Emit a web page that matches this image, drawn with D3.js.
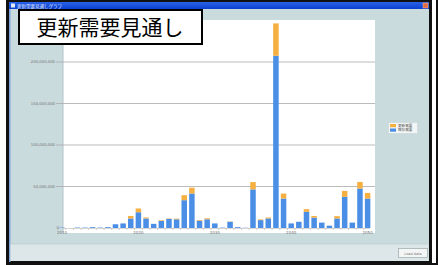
<!DOCTYPE html>
<html>
<head>
<meta charset="utf-8">
<script src="https://cdn.jsdelivr.net/npm/d3@7"></script>
<style>
  html, body { margin: 0; padding: 0; background: #fff; }
  svg { display: block; }
</style>
</head>
<body>
<div id="chart"></div>
<script>
// years on the x axis
const years = [2010, 2011, 2012, 2013, 2014, 2015, 2016, 2017, 2018, 2019,
               2020, 2021, 2022, 2023, 2024, 2025, 2026, 2027, 2028, 2029,
               2030, 2031, 2032, 2033, 2034, 2035, 2036, 2037, 2038, 2039,
               2040, 2041, 2042, 2043, 2044, 2045, 2046, 2047, 2048, 2049, 2050];
const xTickYears = [2010, 2020, 2030, 2040, 2050];

// values in millions
const baseDemand = [0.5, 0, 0.5, 0.5, 1, 0.5, 1, 4.5, 5.5, 11.5,
                    19, 11.5, 5, 8.5, 11, 10.5, 33.5, 41.5, 8.8, 10.5,
                    5.5, 0.5, 7.5, 1, 0.3, 46.5, 9.5, 11.5, 207.5, 35.5,
                    5.5, 7.5, 19.5, 12.5, 6.5, 2.8, 11.5, 37.5, 6.5, 47.5, 35.5];
const renewDemand = [0, 0, 0, 0, 0, 0, 0, 0, 0, 3,
                     4.5, 1.2, 0, 0.8, 0.5, 0.8, 6, 7, 0.8, 1.2,
                     0, 0, 0.3, 0, 0, 8.8, 0.8, 1.2, 39, 6,
                     0, 0, 3.2, 2, 0, 0, 2.8, 7.2, 0, 8, 6.8];
const yTicks = [50, 100, 150, 200];
const seriesNames = ['既存需要', '更新需要'];
const seriesColors = ['#4a8ee6', '#f5b041'];

const width = 438, height = 265;
const panel = '#cadbde';

const svg = d3.select('#chart').append('svg')
    .attr('width', width)
    .attr('height', height)
    .attr('viewBox', `0 0 ${width} ${height}`);

// window frame
svg.append('rect').attr('x', 7.5).attr('y', 0.5).attr('width', 423).attr('height', 262)
    .attr('fill', panel).attr('stroke', '#111').attr('stroke-width', 3);
svg.append('line').attr('x1', 437).attr('x2', 437).attr('y1', 0).attr('y2', 265)
    .attr('stroke', '#111').attr('stroke-width', 2);
svg.append('line').attr('x1', 6).attr('x2', 438).attr('y1', 264).attr('y2', 264)
    .attr('stroke', '#111').attr('stroke-width', 2);
svg.append('rect').attr('x', 9).attr('y', 9).attr('width', 1.5).attr('height', 253)
    .attr('fill', '#7fa2dc');

// title bar
const grad = svg.append('defs').append('linearGradient')
    .attr('id', 'tb').attr('x1', 0).attr('x2', 0).attr('y1', 0).attr('y2', 1);
grad.append('stop').attr('offset', '0%').attr('stop-color', '#2a63e8');
grad.append('stop').attr('offset', '100%').attr('stop-color', '#0b3fd0');
svg.append('rect').attr('x', 9).attr('y', 2).attr('width', 420).attr('height', 7)
    .attr('fill', 'url(#tb)');
svg.append('rect').attr('x', 11).attr('y', 3.5).attr('width', 4).attr('height', 4).attr('fill', '#dfe8f5');
svg.append('text').attr('x', 17).attr('y', 7.6)
    .attr('font-family', 'Noto Sans CJK JP').attr('font-size', 4.5)
    .attr('fill', '#e8eefc').text('更新需要見通しグラフ');
svg.append('rect').attr('x', 423).attr('y', 3).attr('width', 5).attr('height', 5)
    .attr('fill', '#e06a45').attr('stroke', '#f3b39a').attr('stroke-width', 0.5);

// bottom strip and button
svg.append('rect').attr('x', 10.5).attr('y', 244).attr('width', 418).attr('height', 17)
    .attr('fill', '#dde7e9');
svg.append('line').attr('x1', 10.5).attr('x2', 428.5).attr('y1', 244).attr('y2', 244)
    .attr('stroke', '#b9cbcf').attr('stroke-width', 0.7);
svg.append('rect').attr('x', 398.5).attr('y', 248.5).attr('width', 29).attr('height', 9)
    .attr('fill', '#f4f6f6').attr('stroke', '#9aa8ab').attr('stroke-width', 0.7);
svg.append('text').attr('x', 413).attr('y', 254.5).attr('text-anchor', 'middle')
    .attr('font-family', 'DejaVu Sans').attr('font-size', 3.5).attr('fill', '#777')
    .text('Load data');

// plot area
const plot = {left: 63, right: 375, top: 20, bottom: 233};
svg.append('rect').attr('x', plot.left).attr('y', plot.top)
    .attr('width', plot.right - plot.left).attr('height', plot.bottom - plot.top)
    .attr('fill', '#fff');
svg.append('line').attr('x1', plot.left).attr('x2', plot.left)
    .attr('y1', plot.top).attr('y2', plot.bottom)
    .attr('stroke', '#b5c4c7').attr('stroke-width', 1);

const x = d3.scalePoint().domain(years).range([62, 367.6]);
const y = d3.scaleLinear().domain([0, 250]).range([228, 20.5]);
const barW = x.step() * 0.72;

// gridlines + y labels
const fmt = d3.format(',');
const grid = svg.append('g');
grid.selectAll('line').data(yTicks).join('line')
    .attr('x1', 56).attr('x2', plot.right)
    .attr('y1', d => y(d)).attr('y2', d => y(d))
    .attr('stroke', '#a9a9a9').attr('stroke-width', 0.8);
grid.selectAll('text').data([0].concat(yTicks)).join('text')
    .attr('x', d => d === 0 ? 59 : 55).attr('y', d => y(d) + 1.4)
    .attr('text-anchor', 'end')
    .attr('font-family', 'DejaVu Sans').attr('font-size', 3.8)
    .attr('fill', '#6f6f6f')
    .text(d => fmt(d * 1e6));

// stacked bars
const rows = years.map((yr, i) => ({year: yr, base: baseDemand[i], renew: renewDemand[i]}));
const stack = d3.stack().keys(['base', 'renew'])(rows);
svg.append('g').selectAll('g').data(stack).join('g')
    .attr('fill', (d, i) => seriesColors[i])
    .selectAll('rect').data(d => d).join('rect')
    .attr('x', d => x(d.data.year) - barW / 2)
    .attr('width', barW)
    .attr('y', d => y(d[1]))
    .attr('height', d => y(d[0]) - y(d[1]));

// x axis
svg.append('line').attr('x1', plot.left).attr('x2', 370)
    .attr('y1', 228.5).attr('y2', 228.5)
    .attr('stroke', '#bbb').attr('stroke-width', 0.6);
svg.append('g').selectAll('line').data(years).join('line')
    .attr('x1', d => x(d) - x.step() / 2).attr('x2', d => x(d) - x.step() / 2)
    .attr('y1', 228.5).attr('y2', 230)
    .attr('stroke', '#999').attr('stroke-width', 0.5);
svg.append('g').selectAll('text').data(xTickYears).join('text')
    .attr('x', d => x(d)).attr('y', 233.5)
    .attr('text-anchor', 'middle')
    .attr('font-family', 'DejaVu Sans').attr('font-size', 4)
    .attr('fill', '#6f6f6f')
    .text(d => d);

// legend
const lg = svg.append('g').attr('transform', 'translate(388,122)');
lg.append('rect').attr('x', 0.5).attr('y', 0.5).attr('width', 29).attr('height', 11)
    .attr('fill', '#f3f6f6').attr('stroke', '#c3cfd1').attr('stroke-width', 0.5);
[1, 0].forEach((s, row) => {
  lg.append('rect').attr('x', 2).attr('y', 2 + row * 4.5).attr('width', 6).attr('height', 3.2)
      .attr('fill', seriesColors[s]);
  lg.append('text').attr('x', 10).attr('y', 4.8 + row * 4.5)
      .attr('font-family', 'Noto Sans CJK JP').attr('font-size', 3.6)
      .attr('fill', '#555').text(seriesNames[s]);
});

// title box
svg.append('rect').attr('x', 19).attr('y', 10).attr('width', 183).attr('height', 34)
    .attr('fill', '#fff').attr('stroke', '#000').attr('stroke-width', 2);
svg.append('text').attr('x', 110).attr('y', 35)
    .attr('text-anchor', 'middle')
    .attr('font-family', 'Noto Sans CJK JP').attr('font-size', 21)
    .attr('fill', '#000')
    .text('更新需要見通し');
</script>
</body>
</html>
